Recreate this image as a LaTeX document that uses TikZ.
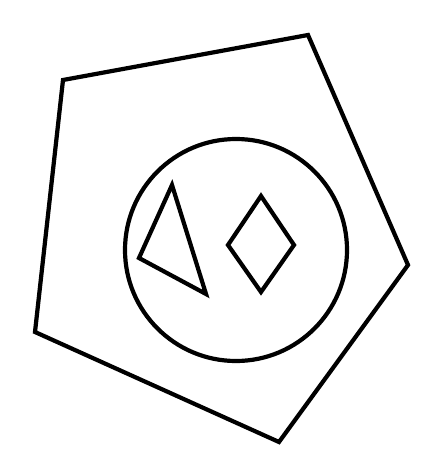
\documentclass[tikz,border=0pt]{standalone}
\begin{document}
\begin{tikzpicture}[x=1pt,y=-1pt,shape line/.style={line width=4.2pt,draw=black,line join=miter}]
\useasboundingbox (0,0) rectangle (439,476);
\fill[white] (0,0) rectangle (439,476);
\draw[shape line] (63,80) -- (308,35) -- (408,265) -- (279,442) -- (35,332) -- cycle;
\draw[shape line] (236,250) circle (111);
\draw[shape line] (172,185) -- (206,294) -- (139,258) -- cycle;
\draw[shape line] (261,196) -- (294,245) -- (261,292) -- (228,245) -- cycle;
\end{tikzpicture}
\end{document}
